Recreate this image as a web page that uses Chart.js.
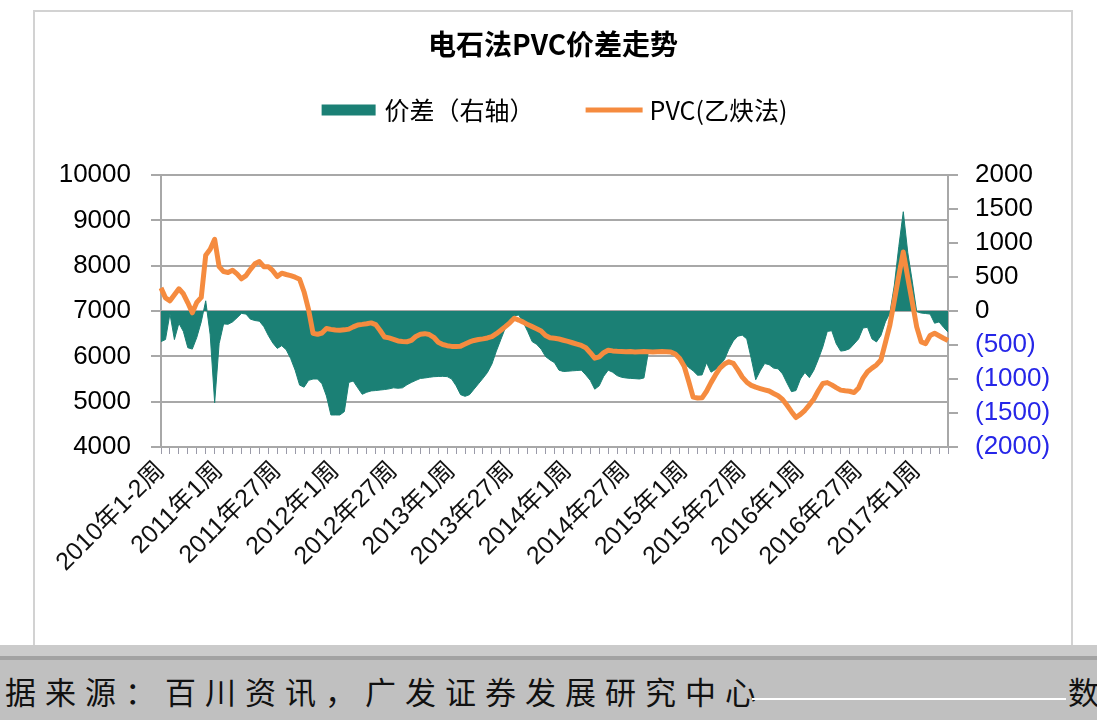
<!DOCTYPE html>
<html lang="zh-CN">
<head>
<meta charset="utf-8">
<title>电石法PVC价差走势</title>
<script src="https://cdn.jsdelivr.net/npm/chart.js@4.4.1/dist/chart.umd.min.js"></script>
<style>
  html, body { margin: 0; padding: 0; background: #fff; }
  body { width: 1097px; height: 720px; position: relative; overflow: hidden; }
  #frame { position: absolute; left: 33px; top: 10px; width: 1040px; height: 640px; border: 2px solid #d2d2d2; box-sizing: border-box; }
  #chart { position: absolute; left: 0; top: 0; }
  #footer { position: absolute; left: 0; top: 645px; width: 1097px; height: 75px; background: #c0c0c0; overflow: hidden; }
  #footer .light { position: absolute; left: 0; top: 0; width: 100%; height: 11px; background: #cbcbcb; }
  #footer .dark { position: absolute; left: 0; top: 11px; width: 100%; height: 4px; background: #a2a2a2; }
  #footer .src { position: absolute; top: 28px; left: -35px; font: 31px/36px "Noto Sans CJK SC", sans-serif; letter-spacing: 9px; color: #111; white-space: nowrap; }
  #footer .rule { position: absolute; left: 752px; top: 53px; width: 314px; height: 2px; background: #fff; }
  #footer .src2 { left: 1068px; }
</style>
</head>
<body>
<div id="frame"><canvas id="chart" width="1036" height="636"></canvas></div>
<div id="footer">
  <div class="light"></div>
  <div class="dark"></div>
  <div class="src">数据来源：百川资讯，广发证券发展研究中心</div>
  <div class="rule"></div>
  <div class="src src2">数</div>
</div>
<script>
// half-year tick labels shown on the x axis (every 13th biweekly point)
const tickLabels = ['2010年1-2周', '2011年1周', '2011年27周', '2012年1周', '2012年27周', '2013年1周',
  '2013年27周', '2014年1周', '2014年27周', '2015年1周', '2015年27周', '2016年1周', '2016年27周', '2017年1周'];

// PVC (乙炔法) price, left axis, biweekly
const pvcPrice = [
  7510, 7290, 7225, 7360, 7490, 7380, 7180, 6960, 7190, 7300,
  8230, 8360, 8580, 7980, 7870, 7850, 7900, 7820, 7710, 7780,
  7920, 8040, 8090, 7977, 7977, 7890, 7760, 7835, 7805, 7780,
  7745, 7700, 7420, 7030, 6510, 6485, 6515, 6615, 6595, 6581,
  6578, 6584, 6600, 6650, 6693, 6705, 6720, 6738, 6700, 6570,
  6425, 6407, 6375, 6340, 6328, 6322, 6350, 6440, 6487, 6500,
  6480, 6420, 6310, 6260, 6235, 6219, 6217, 6225, 6270, 6318,
  6350, 6372, 6385, 6405, 6435, 6500, 6575, 6655, 6740, 6840,
  6800, 6755, 6700, 6655, 6610, 6560, 6460, 6410, 6397, 6382,
  6355, 6330, 6300, 6270, 6240, 6190, 6080, 5960, 5990, 6080,
  6135, 6120, 6110, 6104, 6100, 6106, 6098, 6102, 6105, 6100,
  6096, 6102, 6104, 6100, 6095, 6050, 5950, 5780, 5450, 5100,
  5081, 5085, 5230, 5420, 5590, 5740, 5830, 5880, 5845, 5700,
  5540, 5430, 5360, 5320, 5290, 5262, 5235, 5180, 5130, 5050,
  4920, 4780, 4650, 4720, 4810, 4930, 5060, 5240, 5400, 5420,
  5370, 5310, 5255, 5240, 5230, 5200, 5300, 5520, 5660, 5740,
  5810, 5920, 6300, 6690, 7235, 7780, 8300, 7740, 7200, 6650,
  6320, 6280, 6460, 6510, 6455, 6400, 6350
];

// 价差, right axis
const spread = [
  -450, -420, -40, -420, -180, -300, -540, -560, -390, -160,
  150, -350, -1350, -480, -190, -195, -160, -100, -35, -45,
  -120, -140, -150, -230, -360, -470, -550, -510, -570, -700,
  -870, -1090, -1120, -1020, -1000, -1000, -1070, -1250, -1529, -1529,
  -1529, -1480, -1050, -1030, -1130, -1225, -1195, -1175, -1170, -1162,
  -1155, -1145, -1130, -1136, -1130, -1085, -1050, -1020, -992, -985,
  -975, -966, -963, -961, -965, -1000, -1100, -1230, -1255, -1230,
  -1150, -1070, -990, -905, -780, -590, -420, -250, -130, -70,
  -60, -165, -300, -450, -490, -560, -670, -720, -760, -870,
  -890, -885, -880, -875, -870, -940, -1020, -1150, -1100, -960,
  -870, -900, -950, -975, -985, -991, -995, -1000, -985, -600,
  -590, -583, -585, -590, -595, -610, -690, -760, -830, -880,
  -945, -940, -760, -900, -860, -790, -715, -560, -440, -370,
  -355, -410, -700, -1010, -880, -772, -790, -840, -850, -925,
  -1060, -1186, -1170, -1000, -905, -980, -870, -710, -530, -300,
  -290, -480, -590, -580, -555, -485, -410, -250, -240, -410,
  -455, -360, -160, -30, 380, 950, 1460, 860, 440, -10,
  -30, -37, -45, -180, -160, -240, -310
];

// category labels for every point
const weeks = pvcPrice.map(function(_, i) {
  const half = Math.floor(i / 13), pos = i % 13;
  if (pos === 0 && half < tickLabels.length) return tickLabels[half];
  if (half === 0) return '2010年' + (pos * 4 + 1) + '周';
  const year = 2011 + Math.floor((half - 1) / 2);
  const week = ((half - 1) % 2) * 26 + pos * 2 + 1;
  return year + '年' + week + '周';
});

const GRID = '#a8a8a8';
const NUM_FONT = '"Liberation Sans", Arial, sans-serif';
const CJK_FONT = '"Noto Sans CJK SC", sans-serif';

// legend drawn in the gap between title and plot
const topLegend = {
  id: 'topLegend',
  afterDraw(chart) {
    const ctx = chart.ctx;
    const area = chart.chartArea;
    const ds = chart.data.datasets;
    const y = 98;
    ctx.save();
    ctx.font = '25px ' + CJK_FONT;
    ctx.textBaseline = 'middle';
    const w1 = ctx.measureText(ds[1].label).width;
    const w2 = ctx.measureText(ds[0].label).width;
    const total = 54 + 9 + w1 + 51 + 57 + 7 + w2;
    let x = (area.left + area.right) / 2 - total / 2;
    ctx.fillStyle = ds[1].backgroundColor;
    ctx.fillRect(x, y - 5.5, 54, 11);
    x += 63;
    ctx.fillStyle = '#000';
    ctx.fillText(ds[1].label, x, y);
    x += w1 + 51;
    ctx.strokeStyle = ds[0].borderColor;
    ctx.lineWidth = 5;
    ctx.beginPath();
    ctx.moveTo(x, y);
    ctx.lineTo(x + 57, y);
    ctx.stroke();
    x += 64;
    ctx.fillText(ds[0].label, x, y);
    ctx.restore();
  }
};

const ctx = document.getElementById('chart').getContext('2d');
new Chart(ctx, {
  type: 'line',
  data: {
    labels: weeks,
    datasets: [{
      label: 'PVC(乙炔法)',
      data: pvcPrice,
      yAxisID: 'y',
      borderColor: '#f58b3f',
      borderWidth: 5,
      borderJoinStyle: 'round',
      pointRadius: 0,
      fill: false,
      tension: 0
    }, {
      label: '价差（右轴）',
      data: spread,
      yAxisID: 'y1',
      backgroundColor: '#1b8075',
      borderColor: '#1b8075',
      borderWidth: 1,
      pointRadius: 0,
      fill: 'origin',
      tension: 0
    }]
  },
  options: {
    responsive: false,
    animation: false,
    devicePixelRatio: 1,
    layout: { padding: 0 },
    plugins: {
      legend: { display: false },
      tooltip: { enabled: false },
      title: {
        display: true,
        text: '电石法PVC价差走势',
        color: '#000',
        font: { family: CJK_FONT, size: 28, weight: 'bold' },
        padding: { top: 16, bottom: 113.4 }
      }
    },
    scales: {
      x: {
        afterFit: function(scale) { scale.height = 201; },
        grid: {
          drawOnChartArea: false,
          tickLength: 7,
          lineWidth: 1,
          color: function(c) { return c.index % 2 === 0 ? '#9a9aa8' : 'rgba(0,0,0,0)'; }
        },
        border: { color: GRID, width: 2 },
        ticks: {
          autoSkip: false,
          minRotation: 45,
          maxRotation: 45,
          padding: 2,
          color: '#111',
          font: { family: NUM_FONT + ', "Noto Sans CJK SC"', size: 25 },
          callback: function(value, index) {
            return index % 13 === 0 ? this.getLabelForValue(value) : '';
          }
        }
      },
      y: {
        position: 'left',
        min: 4000,
        max: 10000,
        afterFit: function(scale) { scale.width = 126; },
        grid: { color: GRID, lineWidth: 2, tickLength: 10 },
        border: { color: GRID, width: 2 },
        ticks: {
          stepSize: 1000,
          autoSkip: false,
          padding: 20,
          color: '#000',
          font: { family: NUM_FONT, size: 26 },
          callback: function(v) { return String(v); }
        }
      },
      y1: {
        position: 'right',
        min: -2000,
        max: 2000,
        afterFit: function(scale) { scale.width = 123; },
        grid: { drawOnChartArea: false, color: GRID, lineWidth: 2, tickLength: 10 },
        border: { color: GRID, width: 2 },
        ticks: {
          stepSize: 500,
          autoSkip: false,
          padding: 17,
          font: { family: NUM_FONT, size: 26 },
          color: function(c) { return c.tick && c.tick.value < 0 ? '#2626e8' : '#000'; },
          callback: function(v) { return v < 0 ? '(' + (-v) + ')' : String(v); }
        }
      }
    }
  },
  plugins: [topLegend]
});
</script>
</body>
</html>
